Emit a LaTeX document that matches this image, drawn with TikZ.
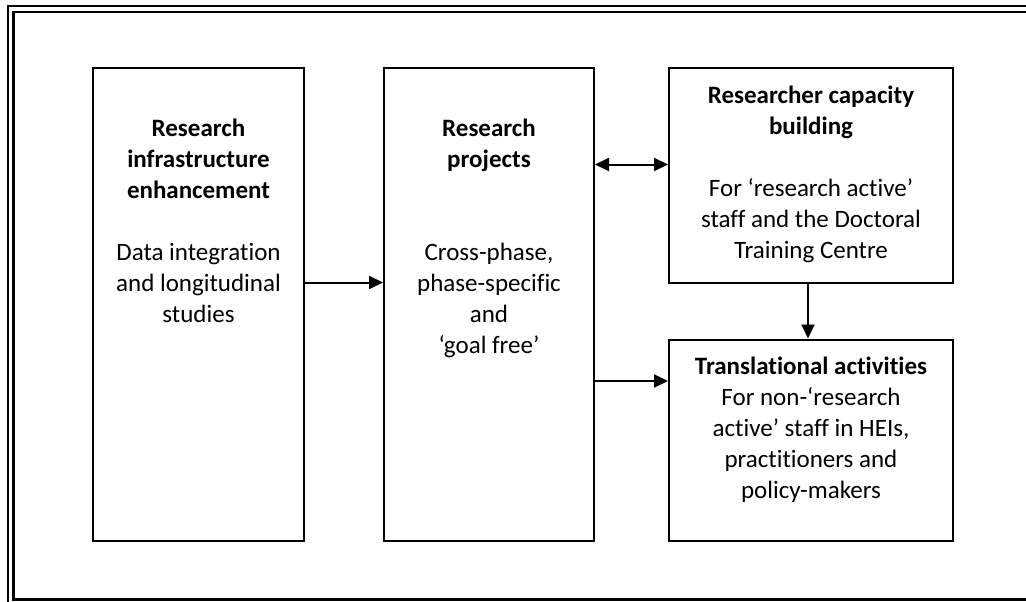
\documentclass[tikz,border=0pt]{standalone}
\usepackage{fontspec}
\setmainfont{Carlito}[Ligatures=NoCommon]
\usetikzlibrary{positioning,arrows.meta}
\tikzset{%
  every box/.style={
    draw,
    line width=2pt,
    inner sep=0pt
  },
  box text/.style={
    align=center,
    inner sep=0pt,
    font=\fontsize{25}{31}\selectfont
  },
}

\begin{document}
\begin{tikzpicture}[x=1pt,y=-1pt,node distance=8mm,>={Triangle[length=14pt,width=13pt]},line width=2pt]
      \useasboundingbox (0,0) rectangle (1026,602);
      \tikzstyle{frame}=[line width=2.2pt]

      % page frame
      \draw[frame] (8,602) -- (8,6) -- (1026,6);
      \draw[frame] (1026,599.5) -- (13.5,599.5) -- (13.5,12) -- (1026,12);

      % boxes
      \node[every box,minimum width=211pt,minimum height=473pt] (b1) at (198.5,304.5) {};
      \node[every box,minimum width=210pt,minimum height=472pt,right=78pt of b1] (b2) {};
      \node[every box,minimum width=284pt,minimum height=214pt,right=73pt of b2.north east,anchor=north west] (b3) {};
      \node[every box,minimum width=284pt,minimum height=201pt,below=55pt of b3] (b4) {};

      % texts
      \node[box text,below=51pt of b1.north] (t1) {\textbf{Research}\\ \textbf{infrastructure}\\ \textbf{enhancement}\\[31pt]
        Data integration\\ and longitudinal\\ studies};
      \node[box text,below=50pt of b2.north] (t2) {\textbf{Research}\\ \textbf{projects}\\[62pt]
        Cross-phase,\\ phase-specific\\ and\\ `goal free'};
      \node[box text,below=17pt of b3.north] (t3) {\textbf{Researcher capacity}\\ \textbf{building}\\[31pt]
        For `research active'\\ staff and the Doctoral\\ Training Centre};
      \node[box text,below=17pt of b4.north] (t4) {\textbf{Translational activities}\\
        For non-`research\\ active' staff in HEIs,\\ practitioners and\\ policy-makers};

      % arrows
      \draw[->] ([yshift=22pt]b1.east) -- ([yshift=22pt]b1.east -| b2.west);
      \draw[<->] ([yshift=11pt]b3.west -| b2.east) -- ([yshift=11pt]b3.west);
      \draw[->] ([xshift=-3pt]b3.south) -- ([xshift=-3pt]b4.north);
      \draw[->] ([yshift=59pt]b4.west -| b2.east) -- ([yshift=59pt]b4.west);
  \end{tikzpicture}
\end{document}
